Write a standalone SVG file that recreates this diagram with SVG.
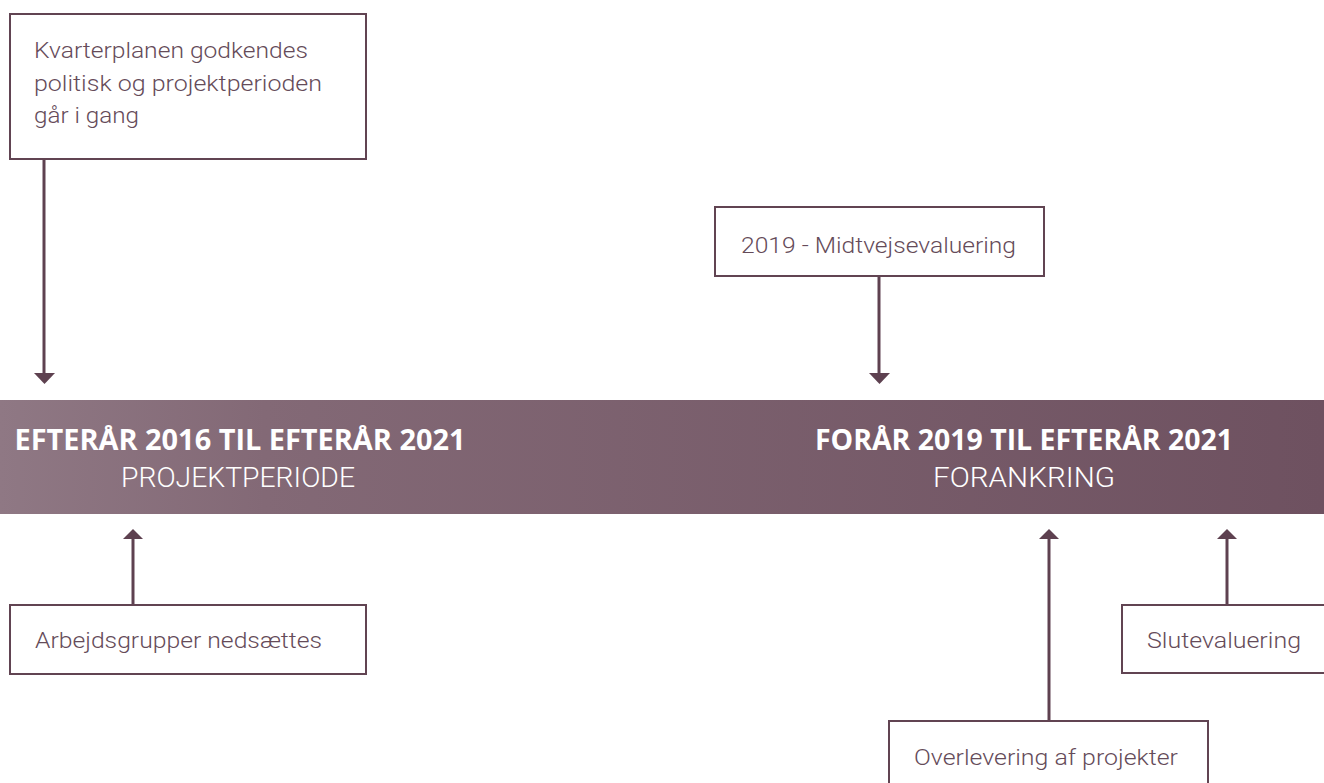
<svg xmlns="http://www.w3.org/2000/svg" width="1324" height="783" viewBox="0 0 1324 783">
<style>
.box{fill:#ffffff;stroke:#614452;stroke-width:2}
.lbl{font-family:Roboto,"Liberation Sans",sans-serif;font-weight:300;font-size:22px;fill:#654b59}
.conn{stroke:#5e4150;stroke-width:3;fill:none}
.head{fill:#5e4150}
.hb{font-family:"Open Sans","Liberation Sans",sans-serif;font-weight:700;font-size:28px;fill:#ffffff;text-anchor:middle}
.hl{font-family:Roboto,"Liberation Sans",sans-serif;font-weight:300;font-size:27px;fill:#ffffff;text-anchor:middle}
</style>
<defs>
<linearGradient id="bandGrad" x1="0" y1="0" x2="1" y2="0">
<stop offset="0" stop-color="#8f7884"/>
<stop offset="0.2" stop-color="#836976"/>
<stop offset="1" stop-color="#6e5160"/>
</linearGradient>
</defs>
<rect width="1324" height="783" fill="#ffffff"/>
<g id="band">
<rect x="0" y="400" width="1324" height="114" fill="url(#bandGrad)"/>
<text class="hb" x="240" y="450" textLength="451" lengthAdjust="spacingAndGlyphs">EFTERÅR 2016 TIL EFTERÅR 2021</text>
<text class="hl" x="238" y="487" textLength="234" lengthAdjust="spacingAndGlyphs">PROJEKTPERIODE</text>
<text class="hb" x="1024" y="450" textLength="418" lengthAdjust="spacingAndGlyphs">FORÅR 2019 TIL EFTERÅR 2021</text>
<text class="hl" x="1024" y="487" textLength="182" lengthAdjust="spacingAndGlyphs">FORANKRING</text>
</g>
<g id="connectors">
<line class="conn" x1="44" y1="160" x2="44" y2="374"/>
<polygon class="head" points="34,373 55,373 44.5,384"/>
<line class="conn" x1="879" y1="276" x2="879" y2="374"/>
<polygon class="head" points="869,373 890,373 879.5,384"/>
<line class="conn" x1="133" y1="605" x2="133" y2="539"/>
<polygon class="head" points="123,539 143,539 133,529"/>
<line class="conn" x1="1049" y1="721" x2="1049" y2="539"/>
<polygon class="head" points="1039,539 1059,539 1049,529"/>
<line class="conn" x1="1227" y1="605" x2="1227" y2="539"/>
<polygon class="head" points="1217,539 1237,539 1227,529"/>
</g>
<g id="node-kvarterplan">
<rect class="box" x="10" y="14" width="356" height="145"/>
<text class="lbl" x="34" y="58" textLength="274" lengthAdjust="spacingAndGlyphs">Kvarterplanen godkendes</text>
<text class="lbl" x="34" y="91" textLength="288" lengthAdjust="spacingAndGlyphs">politisk og projektperioden</text>
<text class="lbl" x="34" y="123" textLength="105" lengthAdjust="spacingAndGlyphs">går i gang</text>
</g>
<g id="node-midtvejs">
<rect class="box" x="715" y="207" width="329" height="69"/>
<text class="lbl" x="741" y="253" textLength="275" lengthAdjust="spacingAndGlyphs">2019 - Midtvejsevaluering</text>
</g>
<g id="node-arbejdsgrupper">
<rect class="box" x="10" y="605" width="356" height="69"/>
<text class="lbl" x="35" y="648" textLength="287" lengthAdjust="spacingAndGlyphs">Arbejdsgrupper nedsættes</text>
</g>
<g id="node-slutevaluering">
<rect class="box" x="1122" y="605" width="210" height="68"/>
<text class="lbl" x="1147" y="648" textLength="154" lengthAdjust="spacingAndGlyphs">Slutevaluering</text>
</g>
<g id="node-overlevering">
<rect class="box" x="889" y="721" width="319" height="80"/>
<text class="lbl" x="914" y="765" textLength="264" lengthAdjust="spacingAndGlyphs">Overlevering af projekter</text>
</g>
</svg>
